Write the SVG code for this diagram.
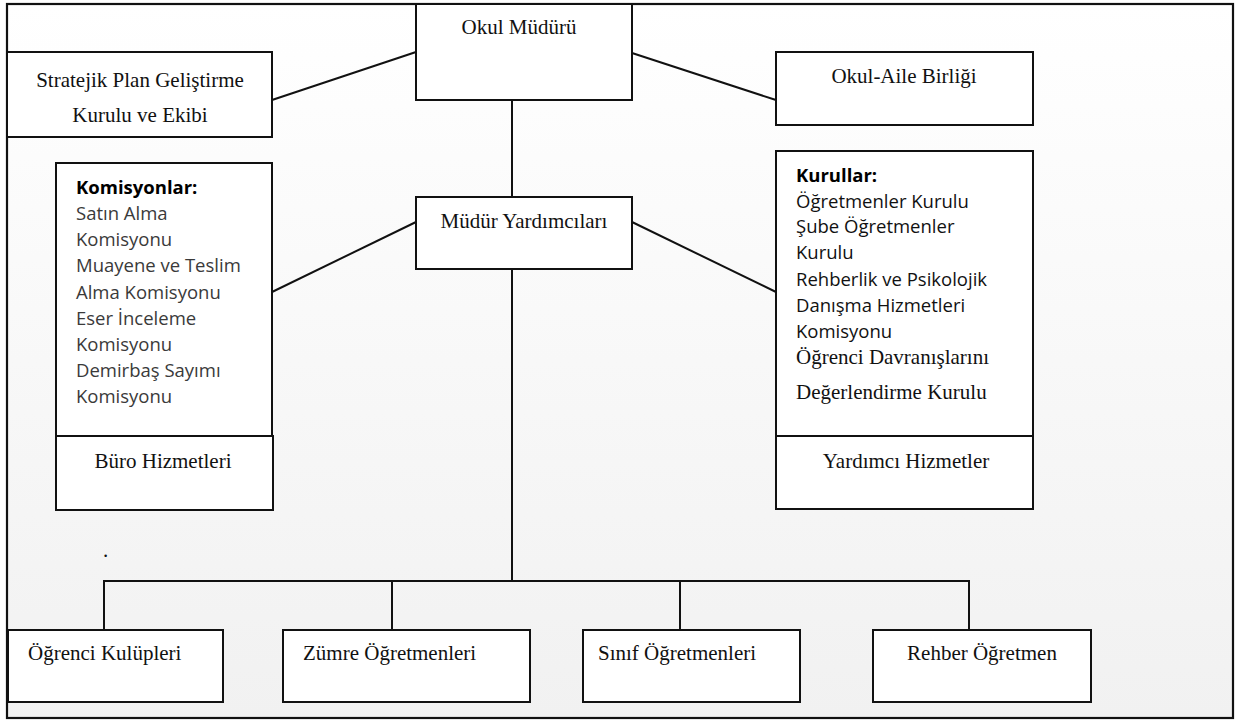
<svg xmlns="http://www.w3.org/2000/svg" width="1239" height="722" viewBox="0 0 1239 722">
<defs>
<linearGradient id="bg" x1="0" y1="0" x2="0" y2="1">
<stop offset="0" stop-color="#ffffff"/>
<stop offset="1" stop-color="#f1f1f1"/>
</linearGradient>
<style>
.box{fill:#ffffff;stroke:#111;stroke-width:2}
.ln{stroke:#111;stroke-width:2;fill:none}
.tr{font-family:"Liberation Serif","Times New Roman",serif;font-size:21px;fill:#111}
.sn{font-family:"Open Sans","Liberation Sans",sans-serif;font-size:18.5px;fill:#111}
.sg{font-family:"Open Sans","Liberation Sans",sans-serif;font-size:18.5px;fill:#3a3a3a}
.b{font-weight:bold;fill:#000}
</style>
</defs>
<rect x="0" y="0" width="1239" height="722" fill="#ffffff"/>
<rect x="7" y="4" width="1226" height="714" fill="url(#bg)" stroke="#111" stroke-width="2.2"/>

<g id="connectors">
<line class="ln" x1="272" y1="100" x2="416" y2="52"/>
<line class="ln" x1="632" y1="53" x2="776" y2="100"/>
<line class="ln" x1="512" y1="100" x2="512" y2="197"/>
<line class="ln" x1="416" y1="222" x2="272" y2="292"/>
<line class="ln" x1="632" y1="222" x2="776" y2="292"/>
<line class="ln" x1="512" y1="269" x2="512" y2="581"/>
<polyline class="ln" points="104,630 104,581 969,581 969,630"/>
<line class="ln" x1="392" y1="581" x2="392" y2="630"/>
<line class="ln" x1="680" y1="581" x2="680" y2="630"/>
</g>

<g id="okul-muduru">
<rect class="box" x="416" y="4" width="216" height="96"/>
<text class="tr" x="519" y="34" text-anchor="middle">Okul Müdürü</text>
</g>

<g id="stratejik-plan">
<rect class="box" x="7" y="52" width="265" height="85"/>
<text class="tr" x="140" y="87" text-anchor="middle">Stratejik Plan Geliştirme</text>
<text class="tr" x="140" y="122" text-anchor="middle">Kurulu ve Ekibi</text>
</g>

<g id="okul-aile">
<rect class="box" x="776" y="52" width="257" height="73"/>
<text class="tr" x="904" y="83" text-anchor="middle">Okul-Aile Birliği</text>
</g>

<g id="mudur-yardimcilari">
<rect class="box" x="416" y="197" width="216" height="72"/>
<text class="tr" x="524" y="228" text-anchor="middle">Müdür Yardımcıları</text>
</g>

<g id="komisyonlar">
<rect class="box" x="56" y="163" width="216" height="273"/>
<text class="sn b" x="76" y="194">Komisyonlar:</text>
<text class="sg" x="76" y="220">Satın Alma</text>
<text class="sg" x="76" y="246">Komisyonu</text>
<text class="sg" x="76" y="272">Muayene ve Teslim</text>
<text class="sg" x="76" y="299">Alma Komisyonu</text>
<text class="sg" x="76" y="325">Eser İnceleme</text>
<text class="sg" x="76" y="351">Komisyonu</text>
<text class="sg" x="76" y="377">Demirbaş Sayımı</text>
<text class="sg" x="76" y="403">Komisyonu</text>
</g>

<g id="buro-hizmetleri">
<rect class="box" x="56" y="436" width="217" height="74"/>
<text class="tr" x="163" y="468" text-anchor="middle">Büro Hizmetleri</text>
</g>

<g id="kurullar">
<rect class="box" x="776" y="151" width="257" height="285"/>
<text class="sn b" x="796" y="182">Kurullar:</text>
<text class="sn" x="796" y="208">Öğretmenler Kurulu</text>
<text class="sn" x="796" y="233">Şube Öğretmenler</text>
<text class="sn" x="796" y="259">Kurulu</text>
<text class="sn" x="796" y="286">Rehberlik ve Psikolojik</text>
<text class="sn" x="796" y="312">Danışma Hizmetleri</text>
<text class="sn" x="796" y="338">Komisyonu</text>
<text class="tr" x="796" y="364">Öğrenci Davranışlarını</text>
<text class="tr" x="796" y="399">Değerlendirme Kurulu</text>
</g>

<g id="yardimci-hizmetler">
<rect class="box" x="776" y="436" width="257" height="73"/>
<text class="tr" x="906" y="468" text-anchor="middle">Yardımcı Hizmetler</text>
</g>

<text class="tr" x="103" y="557" font-size="10px">.</text>

<g id="ogrenci-kulupleri">
<rect class="box" x="8" y="630" width="215" height="72"/>
<text class="tr" x="28" y="660">Öğrenci Kulüpleri</text>
</g>

<g id="zumre-ogretmenleri">
<rect class="box" x="283" y="630" width="247" height="72"/>
<text class="tr" x="303" y="660">Zümre Öğretmenleri</text>
</g>

<g id="sinif-ogretmenleri">
<rect class="box" x="583" y="630" width="217" height="72"/>
<text class="tr" x="598" y="660">Sınıf Öğretmenleri</text>
</g>

<g id="rehber-ogretmen">
<rect class="box" x="873" y="630" width="218" height="72"/>
<text class="tr" x="982" y="660" text-anchor="middle">Rehber Öğretmen</text>
</g>
</svg>
